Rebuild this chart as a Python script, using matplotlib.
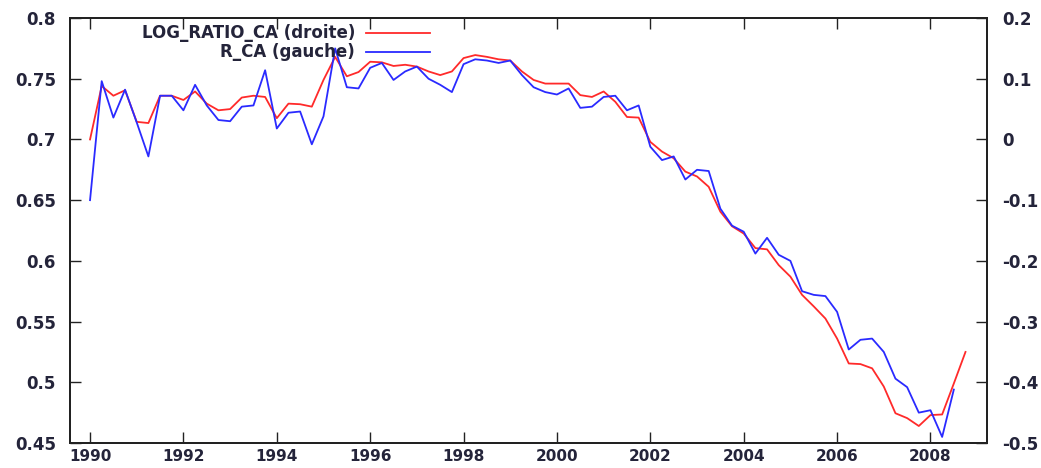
import matplotlib
matplotlib.use("Agg")
import matplotlib.pyplot as plt
from matplotlib.ticker import FixedLocator, FixedFormatter
from matplotlib.font_manager import FontProperties

# Quarterly dates 1990Q1 .. 2008Q4
start_year = 1990

# LOG_RATIO_CA (right axis)
log_ratio_ca = [
    0.000, 0.088, 0.072, 0.081, 0.029, 0.027, 0.072, 0.072, 0.065, 0.079,
    0.059, 0.048, 0.050, 0.069, 0.072, 0.070, 0.035, 0.059, 0.058, 0.054,
    0.098, 0.136, 0.104, 0.111, 0.128, 0.127, 0.121, 0.123, 0.120, 0.112,
    0.106, 0.112, 0.134, 0.139, 0.136, 0.132, 0.130, 0.112, 0.098, 0.092,
    0.092, 0.092, 0.073, 0.070, 0.079, 0.062, 0.037, 0.036, -0.004, -0.020,
    -0.031, -0.053, -0.061, -0.078, -0.119, -0.143, -0.155, -0.179, -0.181, -0.207,
    -0.226, -0.256, -0.275, -0.295, -0.328, -0.369, -0.370, -0.377, -0.407, -0.451,
    -0.459, -0.472, -0.454, -0.453, -0.402, -0.350,
]

# R_CA (left axis)
r_ca = [
    0.650, 0.748, 0.718, 0.741, 0.714, 0.686, 0.736, 0.736, 0.724, 0.745,
    0.728, 0.716, 0.715, 0.727, 0.728, 0.757, 0.709, 0.722, 0.723, 0.696,
    0.719, 0.775, 0.743, 0.742, 0.759, 0.763, 0.749, 0.756, 0.760, 0.750,
    0.745, 0.739, 0.762, 0.766, 0.765, 0.763, 0.765, 0.753, 0.743, 0.739,
    0.737, 0.742, 0.726, 0.727, 0.735, 0.736, 0.724, 0.728, 0.694, 0.683,
    0.686, 0.667, 0.675, 0.674, 0.643, 0.629, 0.624, 0.606, 0.619, 0.605,
    0.600, 0.575, 0.572, 0.571, 0.558, 0.527, 0.535, 0.536, 0.525, 0.503,
    0.496, 0.475, 0.477, 0.455, 0.494,
]

x_red = [start_year + i / 4 for i in range(len(log_ratio_ca))]
x_blue = [start_year + i / 4 for i in range(len(r_ca))]

x_ticks = [1990, 1992, 1994, 1996, 1998, 2000, 2002, 2004, 2006, 2008]
x_labels = ["1990", "1992", "1994", "1996", "1998", "2000", "2002", "2004", "2006", "2008"]
left_ticks = [0.45, 0.5, 0.55, 0.6, 0.65, 0.7, 0.75, 0.8]
left_labels = ["0.45", "0.5", "0.55", "0.6", "0.65", "0.7", "0.75", "0.8"]
right_ticks = [-0.5, -0.4, -0.3, -0.2, -0.1, 0.0, 0.1, 0.2]
right_labels = ["-0.5", "-0.4", "-0.3", "-0.2", "-0.1", "0", "0.1", "0.2"]

label_red = "LOG_RATIO_CA (droite)"
label_blue = "R_CA (gauche)"

RED = "#ff2a2a"
BLUE = "#2a2aff"
TXT = "#24243a"
FONT = dict(family="DejaVu Sans", weight="bold", size=12)
XFONT = dict(family="DejaVu Sans", weight="bold", size=11)

fig = plt.figure(figsize=(10.41, 4.68), dpi=100)
ax = fig.add_axes([0.0672, 0.0534, 0.8809, 0.9081])
ax2 = ax.twinx()

ax2.plot(x_red, log_ratio_ca, color=RED, lw=1.3)
ax.plot(x_blue, r_ca, color=BLUE, lw=1.3)

ax.set_zorder(ax2.get_zorder() + 1)
ax.patch.set_visible(False)

ax.set_xlim(1989.57, 2009.21)
ax.set_ylim(0.45, 0.8)
ax2.set_ylim(-0.5, 0.2)

ax.xaxis.set_major_locator(FixedLocator(x_ticks))
ax.xaxis.set_major_formatter(FixedFormatter(x_labels))
ax.yaxis.set_major_locator(FixedLocator(left_ticks))
ax.yaxis.set_major_formatter(FixedFormatter(left_labels))
ax2.yaxis.set_major_locator(FixedLocator(right_ticks))
ax2.yaxis.set_major_formatter(FixedFormatter(right_labels))

ax.tick_params(axis="x", direction="in", length=8, width=1.0, top=True,
               bottom=True, pad=4.5, colors="#222222", labelcolor=TXT)
ax.tick_params(axis="y", direction="in", length=8, width=1.0, left=True,
               right=False, pad=10, colors="#222222", labelcolor=TXT)
ax2.tick_params(axis="y", direction="in", length=8, width=1.0, right=True,
                pad=11, colors="#222222", labelcolor=TXT)
for lab in ax.get_yticklabels() + ax2.get_yticklabels():
    lab.set_fontproperties(FontProperties(**FONT))
for lab in ax.get_xticklabels():
    lab.set_fontproperties(FontProperties(**XFONT))

for a in (ax, ax2):
    for s in a.spines.values():
        s.set_linewidth(1.4)
        s.set_color("#222222")

# gnuplot-style legend: right-aligned text followed by line sample
tx = 0.311
for yy, lab, col in [(0.964, label_red, RED), (0.9207, label_blue, BLUE)]:
    ax.text(tx, yy, lab, transform=ax.transAxes, ha="right", va="center",
            color=TXT, zorder=5, **FONT)
    ax.plot([0.323, 0.3926], [yy, yy], transform=ax.transAxes, color=col,
            lw=1.3, zorder=5)

fig.savefig("out.png", dpi=100)
